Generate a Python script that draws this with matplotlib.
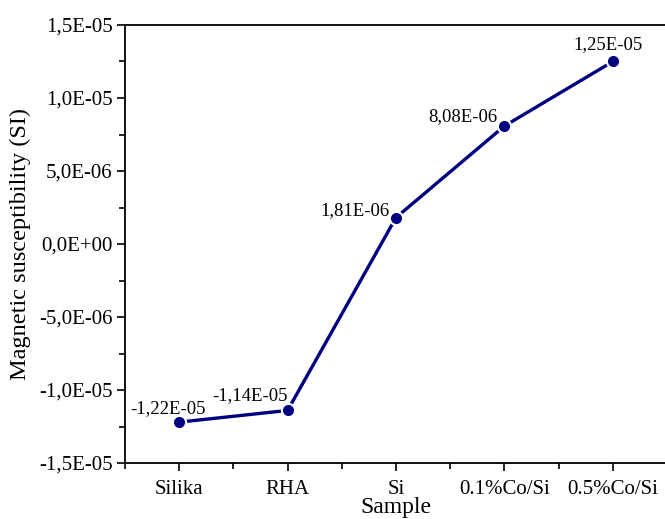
import matplotlib
matplotlib.use("Agg")
import matplotlib.pyplot as plt
from matplotlib.ticker import FuncFormatter, MultipleLocator

# Data
samples = ["Silika", "RHA", "Si", "0.1%Co/Si", "0.5%Co/Si"]
values = [-1.22e-05, -1.14e-05, 1.81e-06, 8.08e-06, 1.25e-05]
labels = ["-1,22E-05", "-1,14E-05", "1,81E-06", "8,08E-06", "1,25E-05"]

plt.rcParams["font.family"] = ["Liberation Serif", "DejaVu Serif"]

fig = plt.figure(figsize=(6.65, 5.19), dpi=100)
ax = fig.add_axes([125 / 665, 56 / 519, 542 / 665, 438 / 519])

x = list(range(len(samples)))
ax.plot(x, values, color="#000080", linewidth=2.4, marker="o", markersize=9.5,
        markerfacecolor="#000080", markeredgecolor="white", markeredgewidth=1.5)

# Value labels next to each point (offsets in pixels)
offsets = [(-11, 14, "center"), (0, 15, "right"), (-6, 7, "right"),
           (-7, 9, "right"), (-5, 17, "center")]
for xi, v, lab, (dx, dy, ha) in zip(x, values, labels, offsets):
    ax.annotate(lab, (xi, v), xytext=(dx, dy), textcoords="offset pixels",
                ha=ha, va="center", fontsize=13.5)

ax.set_xlim(-0.5, 4.5)
ax.set_ylim(-1.5e-05, 1.5e-05)
ax.set_xticks(x)
ax.set_xticklabels(samples)
ax.xaxis.set_minor_locator(MultipleLocator(0.5))
ax.yaxis.set_major_locator(MultipleLocator(5e-06))
ax.yaxis.set_minor_locator(MultipleLocator(2.5e-06))
ax.yaxis.set_major_formatter(FuncFormatter(lambda v, p: f"{v:.1E}".replace(".", ",")))

ax.tick_params(axis="both", which="major", direction="out", length=6, width=1.2,
               labelsize=15, pad=3)
ax.tick_params(axis="x", which="major", pad=6)
ax.tick_params(axis="both", which="minor", direction="out", length=4, width=1.2)
for s in ax.spines.values():
    s.set_linewidth(1.3)

ax.set_xlabel("Sample", fontsize=17, labelpad=-1)
ax.set_ylabel("Magnetic susceptibility (SI)", fontsize=17.5, labelpad=6)

fig.savefig("out.png", dpi=100)
